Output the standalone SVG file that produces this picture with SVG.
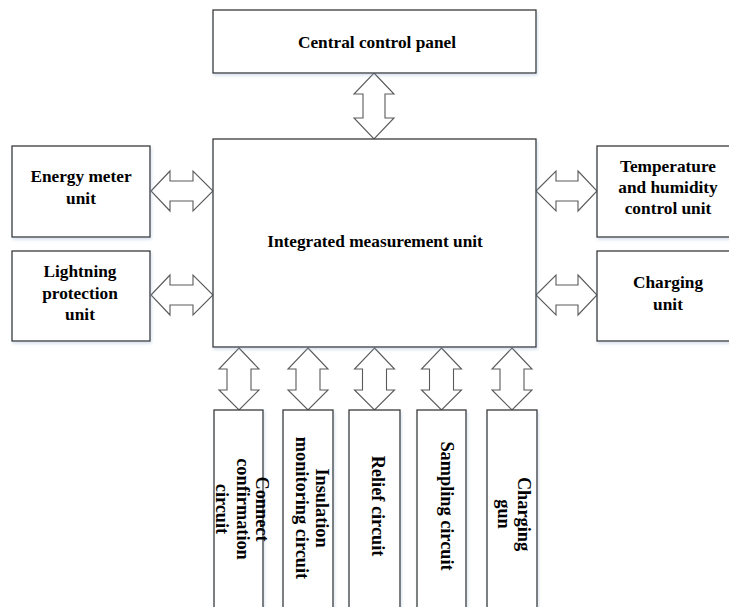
<svg xmlns="http://www.w3.org/2000/svg" width="729" height="607" viewBox="0 0 729 607">
<style>
.box{fill:#fff;stroke:#3a3a3a;stroke-width:1.3;filter:url(#sh)}
.arr{fill:#fff;stroke:#5a5a5a;stroke-width:1.1;stroke-linejoin:miter}
.t{font-family:"Liberation Serif","Times New Roman",serif;font-weight:bold;font-size:17.3px;fill:#000;text-anchor:middle}
.v{font-family:"Liberation Serif","Times New Roman",serif;font-weight:bold;font-size:18.3px;fill:#000;text-anchor:middle}
</style>
<defs>
<filter id="sh" x="-10%" y="-10%" width="120%" height="130%">
<feDropShadow dx="1" dy="2" stdDeviation="1.5" flood-color="#8fa6c8" flood-opacity="0.35"/>
</filter>
</defs>
<rect width="729" height="607" fill="#fff"/>
<g id="connectors">
<path class="arr" d="M374,73 L394,94 L385,94 L385,118 L394,118 L374,139 L354,118 L363,118 L363,94 L354,94 Z"/>
<path class="arr" d="M151,191 L170,171 L170,181 L193,181 L193,171 L213,191 L193,211 L193,201 L170,201 L170,211 Z"/>
<path class="arr" d="M151,295 L170,275 L170,285 L193,285 L193,275 L213,295 L193,315 L193,305 L170,305 L170,315 Z"/>
<path class="arr" d="M536,191 L556,171 L556,181 L578,181 L578,171 L597,191 L578,211 L578,201 L556,201 L556,211 Z"/>
<path class="arr" d="M536,295 L556,275 L556,285 L578,285 L578,275 L597,295 L578,315 L578,305 L556,305 L556,315 Z"/>
<path class="arr" d="M239,348 L259,369 L251,369 L251,390 L259,390 L239,410 L219,390 L227,390 L227,369 L219,369 Z"/>
<path class="arr" d="M308,348 L328,369 L320,369 L320,390 L328,390 L308,410 L288,390 L296,390 L296,369 L288,369 Z"/>
<path class="arr" d="M374.5,348 L394.5,369 L386.5,369 L386.5,390 L394.5,390 L374.5,410 L354.5,390 L362.5,390 L362.5,369 L354.5,369 Z"/>
<path class="arr" d="M441.5,348 L461.5,369 L453.5,369 L453.5,390 L461.5,390 L441.5,410 L421.5,390 L429.5,390 L429.5,369 L421.5,369 Z"/>
<path class="arr" d="M512,348 L532,369 L524,369 L524,390 L532,390 L512,410 L492,390 L500,390 L500,369 L492,369 Z"/>
</g>
<g id="central">
<rect class="box" x="213" y="10" width="323" height="63"/>
<text class="t" x="377" y="48">Central control panel</text>
</g>
<g id="integrated">
<rect class="box" x="213" y="139" width="323" height="208"/>
<text class="t" x="375" y="247">Integrated measurement unit</text>
</g>
<g id="energy">
<rect class="box" x="12" y="146" width="138" height="91"/>
<text class="t"><tspan x="81" y="182">Energy meter</tspan><tspan x="81" y="204">unit</tspan></text>
</g>
<g id="lightning">
<rect class="box" x="12" y="251" width="138" height="90"/>
<text class="t"><tspan x="80" y="277">Lightning</tspan><tspan x="80" y="298.5">protection</tspan><tspan x="80" y="320">unit</tspan></text>
</g>
<g id="temperature">
<rect class="box" x="597" y="146" width="145" height="91"/>
<text class="t"><tspan x="668" y="172">Temperature</tspan><tspan x="668" y="193">and humidity</tspan><tspan x="668" y="213.5">control unit</tspan></text>
</g>
<g id="charging-unit">
<rect class="box" x="597" y="251" width="145" height="90"/>
<text class="t"><tspan x="668" y="288">Charging</tspan><tspan x="668" y="310">unit</tspan></text>
</g>
<g id="connect">
<rect class="box" x="214" y="410" width="49" height="205"/>
<text class="v" transform="translate(256,509) rotate(90)"><tspan x="0" y="0">Connect</tspan><tspan x="0" y="19">confirmation</tspan><tspan x="0" y="40">circuit</tspan></text>
</g>
<g id="insulation">
<rect class="box" x="283" y="410" width="50" height="205"/>
<text class="v" transform="translate(315.5,508) rotate(90)"><tspan x="0" y="0">Insulation</tspan><tspan x="0" y="19.5">monitoring circuit</tspan></text>
</g>
<g id="relief">
<rect class="box" x="349" y="410" width="51" height="205"/>
<text class="v" transform="translate(371.5,506) rotate(90)">Relief circuit</text>
</g>
<g id="sampling">
<rect class="box" x="417" y="410" width="49" height="205"/>
<text class="v" transform="translate(441,506) rotate(90)">Sampling circuit</text>
</g>
<g id="gun">
<rect class="box" x="487" y="410" width="50" height="205"/>
<text class="v" transform="translate(518,514) rotate(90)"><tspan x="0" y="0">Charging</tspan><tspan x="0" y="20">gun</tspan></text>
</g>
</svg>
